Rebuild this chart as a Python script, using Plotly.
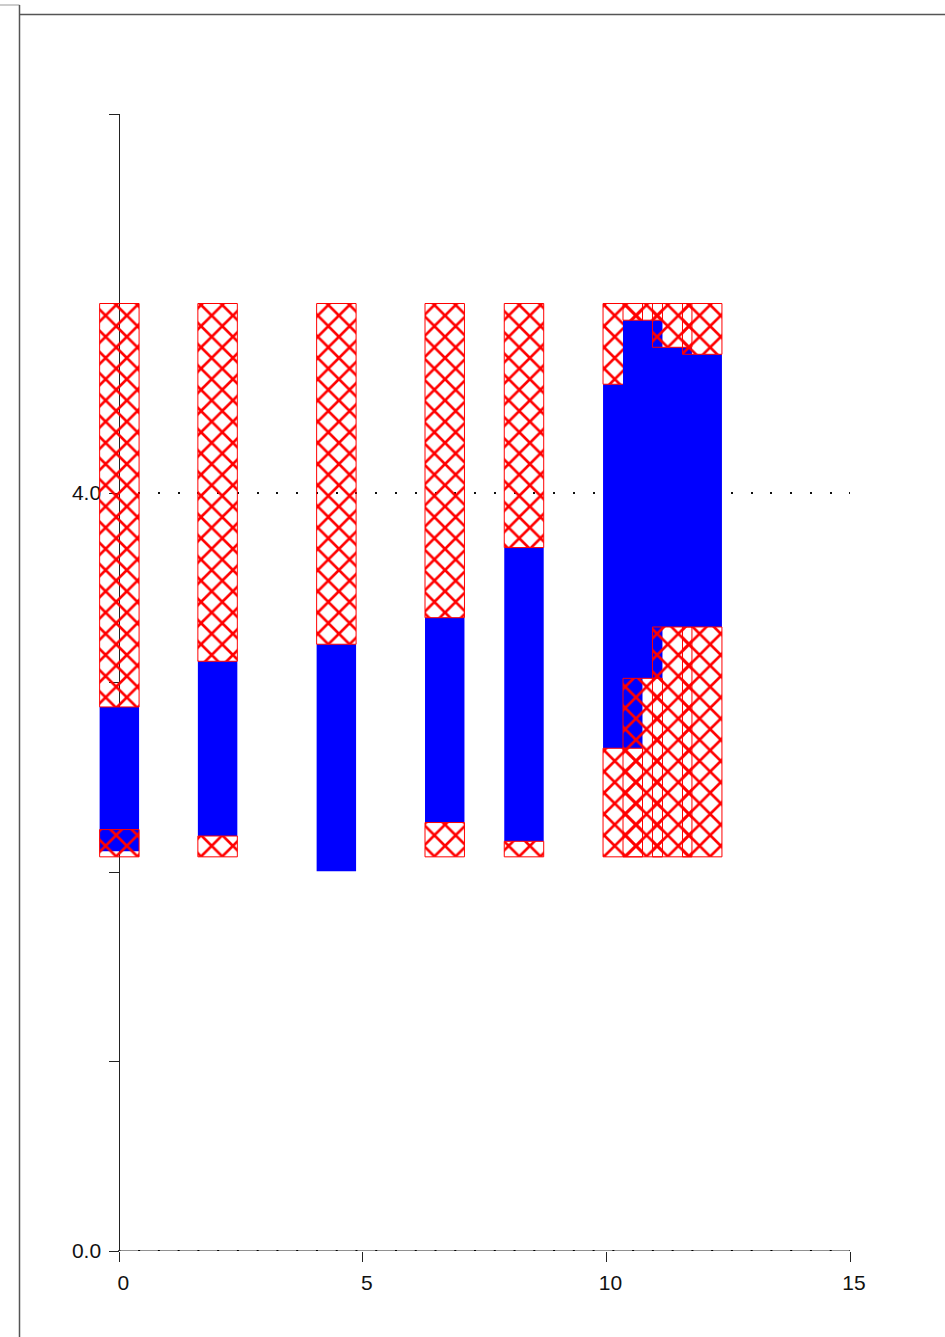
import plotly.graph_objects as go

# ---- data ----
bar_x = [0.0, 2.017, 4.455, 6.68, 8.307, 10.335, 10.745, 11.35, 11.966]
bar_width = 0.81
frame_bottom = [2.08, 2.08, 2.08, 2.08, 2.08, 2.08, 2.08, 2.08, 2.08]
frame_top = [5.0, 5.0, 5.0, 5.0, 5.0, 5.0, 5.0, 5.0, 5.0]
blue_low = [2.109, 2.19, 2.004, 2.261, 2.162, 2.653, 3.022, 3.293, 3.293]
blue_high = [2.871, 3.112, 3.202, 3.342, 3.712, 4.574, 4.912, 4.769, 4.732]
hatch_low_top = [2.224, 2.19, 2.08, 2.261, 2.162, 2.653, 3.022, 3.293, 3.293]

x_ticks = [0, 5, 10, 15]
x_ticktext = ["0", "5", "10", "15"]
y_major = [0, 4]
y_major_text = ["0.0", "4.0"]
y_minor = [1, 2, 3, 5, 6]

X_MIN, X_MAX = -0.5, 15
Y_MIN, Y_MAX = 0, 6

W, H = 945, 1337
ML, MR, MT, MB = 95, 95, 114, 86
PW = W - ML - MR
PH = H - MT - MB

FONT = "Liberation Sans, Arial, Helvetica, sans-serif"
RED = "#ff0000"
BLUE = "#0000ff"
INK = "#222222"

fig = go.Figure()

hatch = dict(shape="x", size=15, solidity=0.32, fgcolor=RED,
             bgcolor="rgba(0,0,0,0)", fillmode="replace")

for i in range(len(bar_x)):
    segs = [
        ("blue", blue_low[i], blue_high[i]),
        ("hatch", frame_bottom[i], hatch_low_top[i]),
        ("hatch", blue_high[i], frame_top[i]),
    ]
    for kind, lo, hi in segs:
        if hi - lo <= 0:
            continue
        if kind == "blue":
            marker = dict(color=BLUE, line=dict(width=0))
        else:
            marker = dict(color=RED, pattern=hatch,
                          line=dict(color=RED, width=1))
        fig.add_trace(go.Bar(x=[bar_x[i]], y=[hi - lo], base=[lo],
                             width=bar_width, marker=marker,
                             showlegend=False, hoverinfo="skip"))

# dotted grid dash aligned so dots fall on x = 0 + k*step
dot_step_px = 19.76
x0_px = ML + PW * (0 - X_MIN) / (X_MAX - X_MIN)
first_gap = x0_px - 1 - ML
grid_dash = "0px,%.2fpx," % first_gap + ",".join(["2px,%.2fpx" % (dot_step_px - 2)] * 45)

fig.update_layout(
    width=W, height=H,
    margin=dict(l=ML, r=MR, t=MT, b=MB, pad=0),
    paper_bgcolor="white", plot_bgcolor="white",
    barmode="overlay",
    showlegend=False,
    font=dict(family=FONT, size=21, color="#111111"),
    xaxis=dict(range=[X_MIN, X_MAX], showgrid=False, zeroline=False,
               showline=False, tickmode="array", tickvals=x_ticks,
               ticktext=x_ticktext, ticks="outside", ticklen=10,
               tickwidth=1, tickcolor=INK, ticklabelshift=4,
               ticklabelstandoff=3,
               tickfont=dict(family=FONT, size=21, color="#111111")),
    yaxis=dict(range=[Y_MIN, Y_MAX], anchor="free",
               position=(0 - X_MIN) / (X_MAX - X_MIN),
               layer="below traces",
               showline=True, linecolor=INK, linewidth=1,
               zeroline=False, tickmode="array", tickvals=y_major,
               ticktext=y_major_text, ticks="outside", ticklen=10,
               tickwidth=1, tickcolor=INK,
               showgrid=True, gridcolor="#111111", gridwidth=2,
               griddash=grid_dash, ticklabelstandoff=4,
               tickfont=dict(family=FONT, size=21, color="#111111"),
               minor=dict(tickmode="array", tickvals=y_minor,
                          ticks="outside", ticklen=10, tickwidth=1,
                          tickcolor=INK, showgrid=False)),
)

# x axis line from x=0 to x=15 at y=0
fig.add_shape(type="line", xref="x", yref="y", x0=0, x1=X_MAX, y0=0, y1=0,
              line=dict(color=INK, width=1), layer="below")
# dotted grid line at y = 0 (plotly hides the boundary gridline)
fig.add_shape(type="line", xref="x", yref="y", x0=X_MIN, x1=X_MAX, y0=y_major[0], y1=y_major[0],
              line=dict(color="#000000", width=2, dash=grid_dash), layer="below")


def px(xp):
    return (xp - ML) / PW


def py(yp):
    return (H - MB - yp) / PH


frame_col = "#555555"
fig.add_shape(type="line", xref="paper", yref="paper", x0=px(0), x1=px(19.5),
              y0=py(5), y1=py(5), line=dict(color="#999999", width=1))
fig.add_shape(type="line", xref="paper", yref="paper", x0=px(19.5), x1=px(19.5),
              y0=py(5), y1=py(H), line=dict(color=frame_col, width=1.5))
fig.add_shape(type="line", xref="paper", yref="paper", x0=px(19.5), x1=px(W),
              y0=py(14.5), y1=py(14.5), line=dict(color=frame_col, width=1.5))

fig.write_html("out.html", config={"displayModeBar": False},
               post_script="document.body.style.margin='0px';")
